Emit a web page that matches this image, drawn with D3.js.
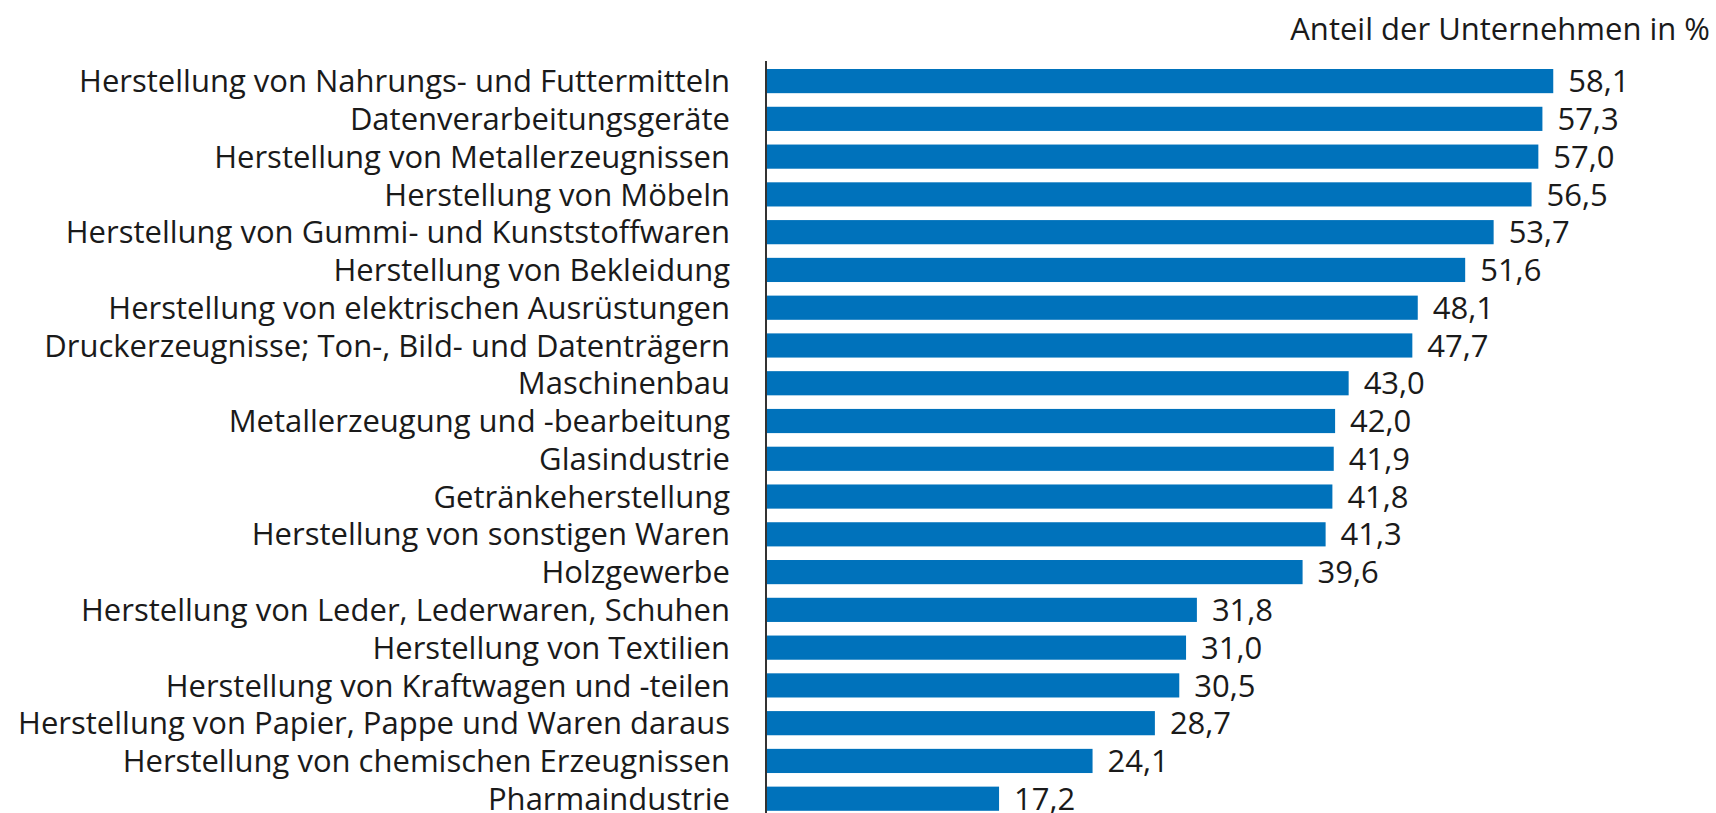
<!DOCTYPE html>
<html>
<head>
<meta charset="utf-8">
<script src="https://cdn.jsdelivr.net/npm/d3@7"></script>
<style>
  body { margin: 0; background: #ffffff; }
  svg text { font-family: "Open Sans", Lato, sans-serif; fill: #1a1a1a; }
</style>
</head>
<body>
<script>
'use strict';

// categories, top to bottom
const categories = [
  "Herstellung von Nahrungs- und Futtermitteln",
  "Datenverarbeitungsgeräte",
  "Herstellung von Metallerzeugnissen",
  "Herstellung von Möbeln",
  "Herstellung von Gummi- und Kunststoffwaren",
  "Herstellung von Bekleidung",
  "Herstellung von elektrischen Ausrüstungen",
  "Druckerzeugnisse; Ton-, Bild- und Datenträgern",
  "Maschinenbau",
  "Metallerzeugung und -bearbeitung",
  "Glasindustrie",
  "Getränkeherstellung",
  "Herstellung von sonstigen Waren",
  "Holzgewerbe",
  "Herstellung von Leder, Lederwaren, Schuhen",
  "Herstellung von Textilien",
  "Herstellung von Kraftwagen und -teilen",
  "Herstellung von Papier, Pappe und Waren daraus",
  "Herstellung von chemischen Erzeugnissen",
  "Pharmaindustrie"
];

// share of companies in %
const values = [58.1, 57.3, 57.0, 56.5, 53.7, 51.6, 48.1, 47.7, 43.0, 42.0,
                41.9, 41.8, 41.3, 39.6, 31.8, 31.0, 30.5, 28.7, 24.1, 17.2];

const unitLabel = "Anteil der Unternehmen in %";

const width = 1716, height = 813;
const axisX = 766;
const fontSize = "31px";

const svg = d3.select("body").append("svg")
  .attr("width", width)
  .attr("height", height);

const x = d3.scaleLinear()
  .domain([0, 60])
  .range([axisX, axisX + 60 * 13.55]);

const y = d3.scaleBand()
  .domain(categories)
  .range([62.2, 817.6])
  .paddingInner(0.36)
  .paddingOuter(0.18);

const fmt = v => d3.format(".1f")(v).replace(".", ",");

// bars
svg.selectAll(".bar")
  .data(values)
  .enter().append("rect")
  .attr("class", "bar")
  .attr("x", x(0))
  .attr("y", (d, i) => y(categories[i]))
  .attr("width", d => x(d) - x(0))
  .attr("height", y.bandwidth())
  .style("fill", "#0072bb");

// value labels
svg.selectAll(".val")
  .data(values)
  .enter().append("text")
  .attr("class", "val")
  .attr("x", d => x(d) + 15)
  .attr("y", (d, i) => y(categories[i]) + y.bandwidth() / 2)
  .attr("dy", "0.36em")
  .style("font-size", fontSize)
  .text(d => fmt(d));

// category axis
const yAxis = d3.axisLeft(y).tickSize(0).tickPadding(36);
const gy = svg.append("g")
  .attr("transform", "translate(" + axisX + ",0)")
  .call(yAxis);
gy.select(".domain").remove();
gy.selectAll("text")
  .style("font-size", fontSize)
  .attr("dy", "0.36em");

// vertical axis line
svg.append("line")
  .attr("x1", axisX).attr("x2", axisX)
  .attr("y1", 61).attr("y2", height)
  .style("stroke", "#333333")
  .style("stroke-width", "2px");

// unit label
svg.append("text")
  .attr("x", 1710)
  .attr("y", 40)
  .style("text-anchor", "end")
  .style("font-size", fontSize)
  .text(unitLabel);
</script>
</body>
</html>
